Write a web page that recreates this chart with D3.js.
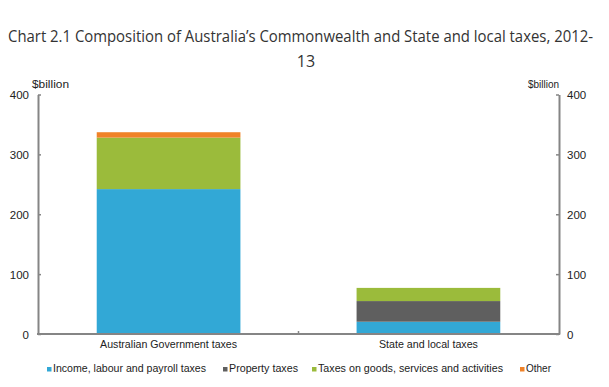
<!DOCTYPE html>
<meta charset="utf-8">
<body style="margin:0;background:#fff">
<script src="https://d3js.org/d3.v7.min.js"></script>
<script>

var categories = ["Australian Government taxes", "State and local taxes"];
var series = ["Income, labour and payroll taxes", "Property taxes", "Taxes on goods, services and activities", "Other"];
var income = [242, 20.5];
var property = [0, 34.5];
var goods = [86, 22];
var other = [9, 0];
var yTicks = [0, 100, 200, 300, 400];
var colors = ["#32a8d6", "#5f5f5f", "#9bbb3b", "#f08228"];

var width = 609, height = 387;
var margin = { top: 94.5, right: 50, bottom: 53, left: 38 };
var labelFont = "'Liberation Sans', Arial, sans-serif";

var svg = d3.select("body").append("svg")
    .attr("width", width)
    .attr("height", height)
    .style("font-family", labelFont);

var x = d3.scaleBand().domain(categories)
    .range([margin.left, width - margin.right])
    .paddingInner(0.447).paddingOuter(0.226);
var y = d3.scaleLinear().domain([0, 400]).range([height - margin.bottom, margin.top]);

// title
svg.append("text")
    .attr("x", 8).attr("y", 42)
    .attr("textLength", 585).attr("lengthAdjust", "spacingAndGlyphs")
    .style("font-family", "'Open Sans', 'Noto Sans', sans-serif")
    .style("font-size", "15.5px")
    .style("fill", "#333")
    .text("Chart 2.1 Composition of Australia\u2019s Commonwealth and State and local taxes, 2012-");
svg.append("text")
    .attr("x", 306).attr("y", 67)
    .attr("text-anchor", "middle")
    .style("font-family", "'Open Sans', 'Noto Sans', sans-serif")
    .style("font-size", "16px")
    .style("fill", "#333")
    .text("13");

// stacked bars
var rows = categories.map(function (c, i) {
    return { cat: c, v0: income[i], v1: property[i], v2: goods[i], v3: other[i] };
});
var stack = d3.stack().keys(["v0", "v1", "v2", "v3"]);
var layers = stack(rows);

svg.selectAll(".layer")
    .data(layers)
  .enter().append("g")
    .attr("fill", function (d, i) { return colors[i]; })
  .selectAll("rect")
    .data(function (d) { return d; })
  .enter().append("rect")
    .attr("x", function (d) { return x(d.data.cat); })
    .attr("width", x.bandwidth())
    .attr("y", function (d) { return y(d[1]); })
    .attr("height", function (d) { return y(d[0]) - y(d[1]); });

// axes (ticks point inward)
var axisColor = "#858585";
var leftAxis = svg.append("g")
    .attr("transform", "translate(" + margin.left + ",0)")
    .call(d3.axisLeft(y).tickValues(yTicks).tickSizeInner(-3).tickSizeOuter(0).tickPadding(9));
var rightAxis = svg.append("g")
    .attr("transform", "translate(" + (width - margin.right) + ",0)")
    .call(d3.axisRight(y).tickValues(yTicks).tickSizeInner(-3).tickSizeOuter(0).tickPadding(8));

[leftAxis, rightAxis].forEach(function (a) {
    a.attr("font-family", labelFont);
    a.select(".domain").attr("stroke", axisColor).attr("stroke-width", 2);
    a.selectAll(".tick line").attr("stroke", axisColor).attr("stroke-width", 1.5);
    a.selectAll(".tick text").style("font-size", "11.5px").style("fill", "#222").attr("dy", "0.35em");
});
leftAxis.selectAll(".tick text").attr("x", -9);
rightAxis.selectAll(".tick text").attr("x", 8);

// x axis baseline
var catWidths = [137, 99];
var xAxis = svg.append("g")
    .attr("font-family", labelFont)
    .attr("transform", "translate(0," + y(0) + ")")
    .call(d3.axisBottom(x).tickSize(0).tickPadding(6));
xAxis.select(".domain").remove();
xAxis.append("line")
    .attr("x1", margin.left - 1).attr("x2", width - margin.right + 1)
    .attr("stroke", axisColor).attr("stroke-width", 2);
var midX = (x(categories[0]) + x.bandwidth() + x(categories[1])) / 2;
xAxis.append("line")
    .attr("x1", midX).attr("x2", midX)
    .attr("y1", 0).attr("y2", -3)
    .attr("stroke", axisColor).attr("stroke-width", 1.5);
xAxis.selectAll(".tick text").style("font-size", "11.5px").style("fill", "#222")
    .attr("textLength", function (d, i) { return catWidths[i]; })
    .attr("lengthAdjust", "spacingAndGlyphs");

// unit labels
svg.append("text").attr("x", 32).attr("y", 88)
    .attr("textLength", 37).attr("lengthAdjust", "spacingAndGlyphs")
    .style("font-size", "10.5px").style("fill", "#222").text("$billion");
svg.append("text").attr("x", 528).attr("y", 88)
    .attr("textLength", 31).attr("lengthAdjust", "spacingAndGlyphs")
    .style("font-size", "10.5px").style("fill", "#222").text("$billion");

// legend
var legendX = [47, 223, 312, 520];
var legendW = [153, 69, 185, 25];
var legend = svg.selectAll(".legend")
    .data(series)
  .enter().append("g")
    .attr("transform", function (d, i) { return "translate(" + legendX[i] + ",372)"; });
legend.append("rect")
    .attr("x", 0).attr("y", -5).attr("width", 4.5).attr("height", 4.5)
    .attr("fill", function (d, i) { return colors[i]; });
legend.append("text")
    .attr("x", 6).attr("y", 0)
    .attr("textLength", function (d, i) { return legendW[i]; })
    .attr("lengthAdjust", "spacingAndGlyphs")
    .style("font-size", "11.5px").style("fill", "#222")
    .text(function (d) { return d; });

</script>
</body>
